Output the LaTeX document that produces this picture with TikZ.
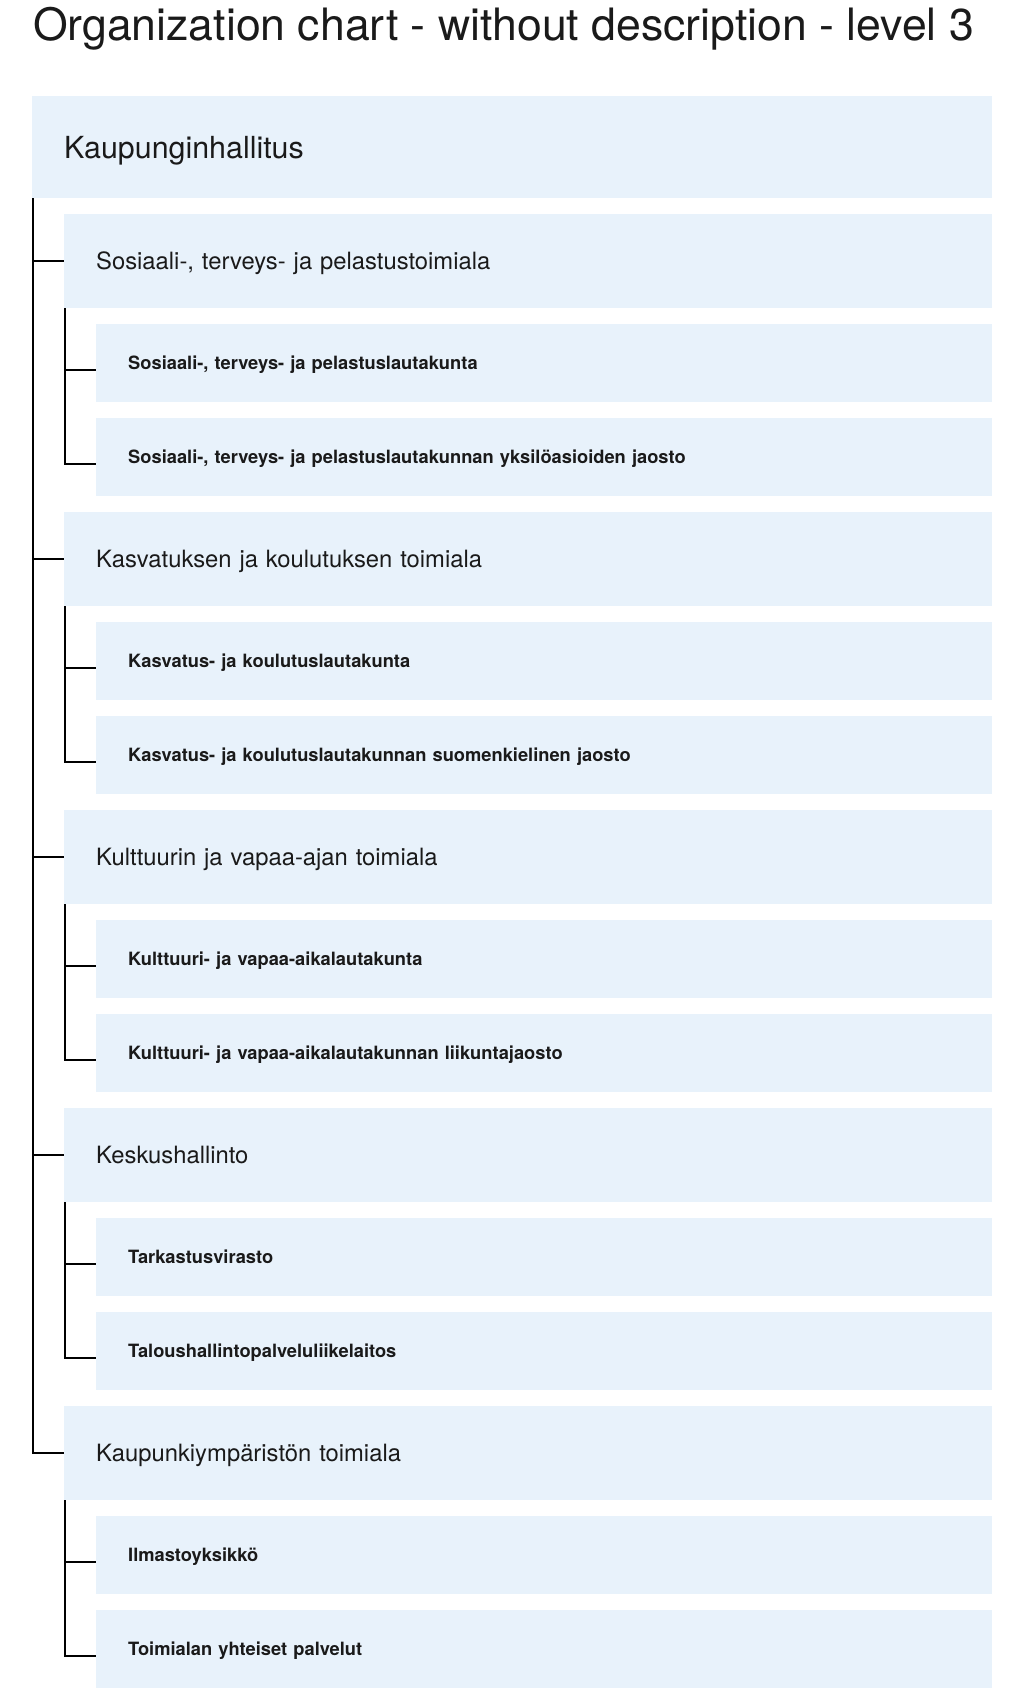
\documentclass[tikz,border=0pt]{standalone}
\usepackage{fontspec}
\setmainfont{TeX Gyre Heros}
\usetikzlibrary{trees}
\definecolor{boxblue}{HTML}{E8F2FB}
\definecolor{inkblack}{HTML}{1A1A1A}
\tikzset{
  orgnode/.style = {anchor=north west, fill=boxblue, text=inkblack, align=left,
    inner xsep=32pt, inner ysep=0pt, text depth=0pt},
  org_root/.style = {orgnode, text width=896pt, minimum height=102pt,
    text height=21.9pt, font=\fontsize{30.4}{36}\selectfont},% kaupunginhallitus
  org_dept/.style = {orgnode, text width=864pt, minimum height=94pt,
    text height=17.1pt, font=\fontsize{23.8}{28}\selectfont},% toimiala
  org_unit/.style = {orgnode, text width=832pt, minimum height=78pt,
    text height=13.2pt, font=\bfseries\fontsize{18.3}{22}\selectfont}% lautakunta, jaosto
}

\begin{document}
\begin{tikzpicture}[x=1pt,y=1pt,growth parent anchor=north west,
  edge from parent/.style={draw=black,line width=2pt},
  level 1/.style={grow via three points={one child at (32,-118) and two children at (32,-118) and (32,-416)},
    edge from parent path={([xshift=1pt]\tikzparentnode.south west) |- (\tikzchildnode.west)}},
  level 2/.style={grow via three points={one child at (32,-110) and two children at (32,-110) and (32,-204)},
    edge from parent path={([xshift=1pt]\tikzparentnode.south west) |- (\tikzchildnode.base west)}}]
    \useasboundingbox (0,0) rectangle (1024,-1688);
    \node [anchor=base west, inner sep=0pt, text=inkblack, font=\fontsize{44.6}{50}\selectfont]
      (title) at (33,-41) {Organization chart - without description - level 3};
    \node [org_root] (kh) at (32,-96) {Kaupunginhallitus}
        child{ node [org_dept] (sote) {Sosiaali-, terveys- ja pelastustoimiala}
          child{ node [org_unit] (sote_ltk) {Sosiaali-, terveys- ja pelastuslautakunta}}
          child{ node [org_unit] (sote_jaos) {Sosiaali-, terveys- ja pelastuslautakunnan yksilöasioiden jaosto}}
        }
        child{ node [org_dept] (kasko) {Kasvatuksen ja koulutuksen toimiala}
          child{ node [org_unit] (kasko_ltk) {Kasvatus- ja koulutuslautakunta}}
          child{ node [org_unit] (kasko_jaos) {Kasvatus- ja koulutuslautakunnan suomenkielinen jaosto}}
        }
        child{ node [org_dept] (kuva) {Kulttuurin ja vapaa-ajan toimiala}
          child{ node [org_unit] (kuva_ltk) {Kulttuuri- ja vapaa-aikalautakunta}}
          child{ node [org_unit] (kuva_jaos) {Kulttuuri- ja vapaa-aikalautakunnan liikuntajaosto}}
        }
        child{ node [org_dept] (kanslia) {Keskushallinto}
          child{ node [org_unit] (tarva) {Tarkastusvirasto}}
          child{ node [org_unit] (talpa) {Taloushallintopalveluliikelaitos}}
        }
        child{ node [org_dept] (kymp) {Kaupunkiympäristön toimiala}
          child{ node [org_unit] (ilmasto) {Ilmastoyksikkö}}
          child{ node [org_unit] (kymp_yp) {Toimialan yhteiset palvelut}}
        }
    ;
\end{tikzpicture}
\end{document}
